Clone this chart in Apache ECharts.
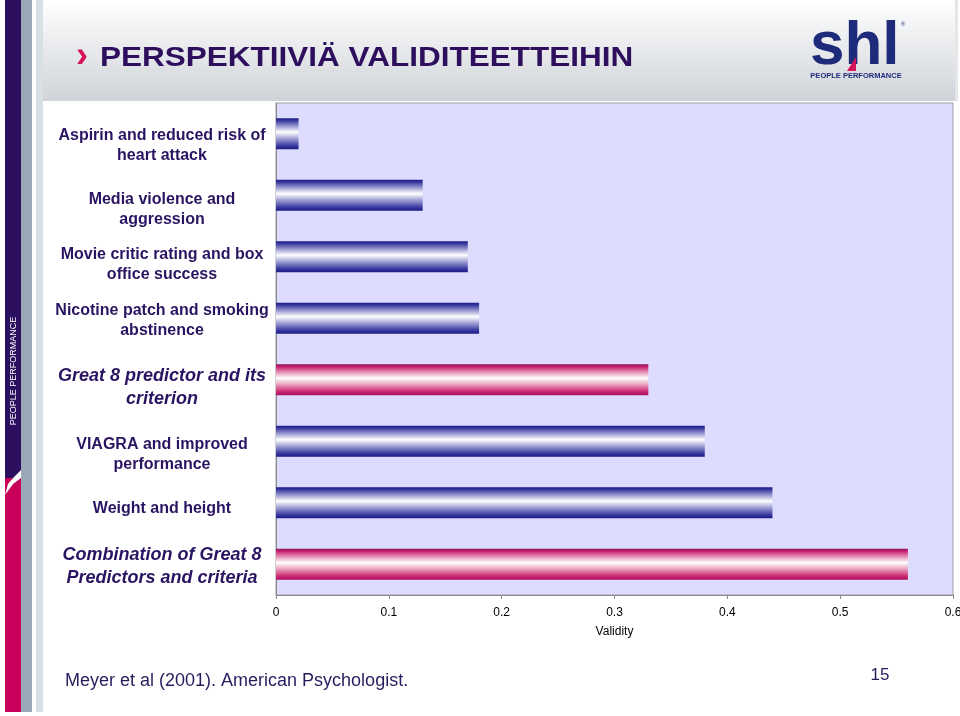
<!DOCTYPE html>
<html><head><meta charset="utf-8">
<script src="https://cdn.jsdelivr.net/npm/echarts@6/dist/echarts.min.js"></script>
<style>html,body{margin:0;padding:0;background:#fff}#c{width:960px;height:716px}</style>
</head><body><div id="c"></div>
<script>
const categories = [
  'Aspirin and reduced risk of\nheart attack',
  'Media violence and\naggression',
  'Movie critic rating and box\noffice success',
  'Nicotine patch and smoking\nabstinence',
  'Great 8 predictor and its\ncriterion',
  'VIAGRA and improved\nperformance',
  'Weight and height',
  'Combination of Great 8\nPredictors and criteria'
];
const validity = [0.02, 0.13, 0.17, 0.18, 0.33, 0.38, 0.44, 0.56];
const highlighted = [false, false, false, false, true, false, false, true];
const xTickLabels = ['0', '0.1', '0.2', '0.3', '0.4', '0.5', '0.6'];
const titleText = 'PERSPEKTIIVIÄ VALIDITEETTEIHIN';
const footerText = 'Meyer et al (2001). American Psychologist.';
const pageNumber = '15';

// styling: vertical nudge (px) of each category label relative to its bar, as laid out on the slide
const labelNudge = [12, 14, 7.5, 2, 7.5, 13.5, 6, 2];

const blueGrad = {type:'linear',x:0,y:0,x2:0,y2:1,colorStops:[
  {offset:0,color:'#1a1a86'},{offset:0.08,color:'#3a3aa0'},{offset:0.28,color:'#a8a8d8'},
  {offset:0.45,color:'#ffffff'},{offset:0.62,color:'#b0b0dc'},{offset:0.88,color:'#3c3ca2'},{offset:1,color:'#1a1a86'}]};
const pinkGrad = {type:'linear',x:0,y:0,x2:0,y2:1,colorStops:[
  {offset:0,color:'#8a1060'},{offset:0.08,color:'#c82070'},{offset:0.28,color:'#eaa0c0'},
  {offset:0.45,color:'#ffffff'},{offset:0.62,color:'#eeb0c8'},{offset:0.88,color:'#cc2a72'},{offset:1,color:'#a8105e'}]};

const labelColor = '#2a1462';
const chart = echarts.init(document.getElementById('c'), null, {renderer:'canvas'});
chart.setOption({
  backgroundColor:'#ffffff',
  animation:false,
  grid:{left:276, top:103, right:7, bottom:121, outerBoundsMode:'none', containLabel:false,
    show:true, backgroundColor:'#dedcfe', borderColor:'#a0a0a8', borderWidth:1},
  xAxis:{
    type:'value', min:0, max:0.6, interval:0.1,
    name:'Validity', nameLocation:'middle', nameGap:31,
    nameTextStyle:{fontFamily:'Liberation Sans Narrow, Liberation Sans, Arial', fontSize:12, color:'#000'},
    axisLine:{show:true, lineStyle:{color:'#888890'}},
    axisTick:{show:true, length:4, lineStyle:{color:'#888890'}},
    splitLine:{show:false},
    axisLabel:{margin:12, color:'#000', fontFamily:'Liberation Sans Narrow, Liberation Sans, Arial', fontSize:12,
      formatter:(v)=>xTickLabels[Math.round(v*10)]}
  },
  yAxis:{
    type:'category', data:categories, inverse:true,
    axisLine:{show:true, lineStyle:{color:'#888890'}},
    axisTick:{show:false},
    axisLabel:{show:false}
  },
  series:[{
    type:'bar', barWidth:31,
    data: validity.map((v,i)=>({value:v, itemStyle:{color: highlighted[i] ? pinkGrad : blueGrad}})),
    itemStyle:{borderWidth:0}
  }]
});

const graphics = [
  // header band
  {type:'rect', shape:{x:43,y:0,width:912,height:101}, style:{fill:{type:'linear',x:0,y:0,x2:0,y2:1,colorStops:[{offset:0,color:'#ffffff'},{offset:1,color:'#cfd3d8'}]}}, z:-1},
  {type:'rect', shape:{x:955,y:0,width:3,height:101}, style:{fill:'#e4e6e8'}, z:-1},
  // sidebar
  {type:'rect', shape:{x:5,y:0,width:16,height:480}, style:{fill:'#2c0f5e'}},
  {type:'rect', shape:{x:5,y:478,width:16,height:234}, style:{fill:'#c8005c'}},
  {type:'polygon', shape:{points:[[5,495],[8,484],[14,477],[21,470],[21,478],[13,484]]}, style:{fill:'#ffffff'}},
  {type:'rect', shape:{x:21,y:0,width:11,height:712}, style:{fill:'#98a8b6'}},
  {type:'rect', shape:{x:36,y:0,width:7,height:712}, style:{fill:'#d8e0e4'}},
  {type:'text', x:14, y:371, rotation:Math.PI/2, style:{text:'PEOPLE PERFORMANCE', fill:'#ffffff', fontFamily:'Liberation Sans, Arial', fontSize:9, align:'center', verticalAlign:'middle'}},
  // title
  {type:'text', x:76, y:57, style:{text:'›', fill:'#d4145a', fontFamily:'Liberation Sans, Arial', fontWeight:'bold', fontSize:36, verticalAlign:'middle'}},
  {type:'text', x:100, y:58, scaleX:1.125, style:{text:titleText, fill:'#2e0f5e', fontFamily:'Liberation Sans, Arial', fontWeight:'bold', fontSize:28, verticalAlign:'middle'}},
  // logo
  {type:'text', x:810, y:47, style:{text:'shl', fill:'#1e2a7a', fontFamily:'Liberation Sans, Arial', fontWeight:'bold', fontSize:62, verticalAlign:'middle'}},
  {type:'polygon', shape:{points:[[847,71],[856,57],[856,71]]}, style:{fill:'#d4145a'}},
  {type:'text', x:901, y:24, style:{text:'®', fill:'#1e2a7a', fontFamily:'Liberation Sans, Arial', fontSize:6, verticalAlign:'middle'}},
  {type:'text', x:856, y:76, style:{text:'PEOPLE PERFORMANCE', fill:'#1e2a7a', fontFamily:'Liberation Sans, Arial', fontWeight:'bold', fontSize:7.5, align:'center', verticalAlign:'middle'}},
  // footer
  {type:'text', x:65, y:681, style:{text:footerText, fill:'#2a1a5e', fontFamily:'Liberation Sans Narrow, Liberation Sans, Arial', fontSize:18, verticalAlign:'middle'}},
  {type:'text', x:880, y:675, style:{text:pageNumber, fill:'#2a1a5e', fontFamily:'Liberation Sans Narrow, Liberation Sans, Arial', fontSize:17, align:'center', verticalAlign:'middle'}}
];

// category labels, placed at each category's position on the y axis
const axisX = chart.convertToPixel({xAxisIndex:0}, 0);
categories.forEach((c, i) => {
  const y = chart.convertToPixel({yAxisIndex:0}, i);
  graphics.push({
    type:'text', x: axisX - 114, y: y + labelNudge[i],
    style:{
      text:c, fill:labelColor, fontFamily:'Liberation Sans, Arial', fontWeight:'bold',
      fontStyle: highlighted[i] ? 'italic' : 'normal',
      fontSize: highlighted[i] ? 18 : 16, lineHeight: highlighted[i] ? 23 : 20,
      align:'center', verticalAlign:'middle'
    }
  });
});
chart.setOption({graphic: graphics});
</script></body></html>
